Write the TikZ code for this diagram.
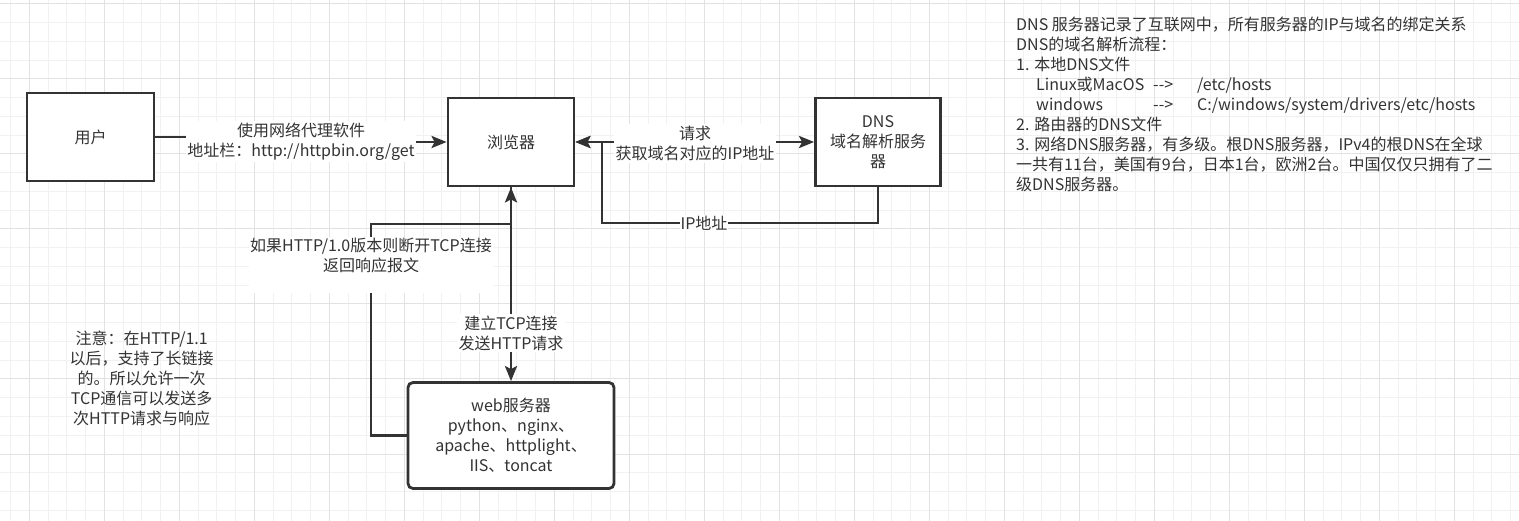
\documentclass[tikz,border=0pt]{standalone}
\usepackage{fontspec}
\setmainfont{Noto Sans CJK SC}
\usetikzlibrary{arrows.meta}
\definecolor{ink}{HTML}{333333}
\definecolor{gridminor}{HTML}{F1F1F1}
\definecolor{gridmajor}{HTML}{E2E2E2}
\begin{document}
\begin{tikzpicture}[x=1pt,y=-1pt,
  every node/.style={font=\fontsize{16pt}{20pt}\selectfont, text=ink},
  box/.style={draw=ink, line width=2.8pt, fill=white, inner sep=0pt, align=center},
  lbl/.style={fill=white, inner sep=2pt, align=center},
  arr/.style={line width=2.8pt, draw=ink, -{Stealth[length=15pt,width=12pt,inset=3pt]}},
  biarr/.style={line width=2.8pt, draw=ink, {Stealth[length=15pt,width=12pt,inset=3pt]}-{Stealth[length=15pt,width=12pt,inset=3pt]}},
  minorln/.style={draw=gridminor, line width=1pt},
  majorln/.style={draw=gridmajor, line width=1pt}]
\useasboundingbox (0,0) rectangle (1519,521);
\fill[white] (0,0) rectangle (1519,521);
% grid
\foreach \i in {0,...,80} \draw[minorln] ({10.55+18.75*\i},0) -- ({10.55+18.75*\i},521);
\foreach \i in {0,...,27} \draw[minorln] (0,{4+18.75*\i}) -- (1519,{4+18.75*\i});
\foreach \i in {0,...,20} \draw[majorln] ({29.3+75*\i},0) -- ({29.3+75*\i},521);
\foreach \i in {0,...,6} \draw[majorln] (0,{4+75*\i}) -- (1519,{4+75*\i});

% boxes
\node[box, minimum width=127pt, minimum height=88pt] (user) at (90.5,137) {用户};
\node[box, minimum width=126pt, minimum height=88pt] (browser) at (511,142) {浏览器};
\node[box, minimum width=125pt, minimum height=88pt] (dns) at (878,142) {DNS\\域名解析服务\\器};
\node[box, rounded corners=5pt, minimum width=206pt, minimum height=106pt] (web) at (511,435.5) {web服务器\\python、nginx、\\apache、httplight、\\IIS、toncat};

% user -> browser
\coordinate (ujog) at (301,137);
\draw[arr] (user.east) -- (ujog) |- (browser.west);
\node[lbl, inner sep=1.5pt] (ulbl) at (301,141.3) {使用网络代理软件\\地址栏：http://httpbin.org/get};

% browser <-> dns
\draw[biarr] (browser.east) -- (dns.west);
\node[lbl] (dlbl) at (695,143.5) {请求\\获取域名对应的IP地址};

% dns -> browser (IP)
\coordinate (ipc) at (602,223);
\draw[arr] (dns.south) |- (ipc) -- (ipc |- browser.east) -- (browser.east);
\node[lbl, inner sep=1pt] (iplbl) at (704,223) {IP地址};

% web -> browser (response loop)
\coordinate (lp) at (371,224);
\coordinate (jn) at (511,224);
\draw[arr] (web.west) -| (lp) -- (jn) -- (browser.south);
\node[lbl, inner sep=1.5pt] (rlbl) at (371,265) {如果HTTP/1.0版本则断开TCP连接\\返回响应报文\\\mbox{}};

% browser -> web
\draw[arr] (browser.south) -- (web.north);
\node[lbl, inner sep=2pt] (tlbl) at (511,333) {建立TCP连接\\发送HTTP请求};

% note
\node[align=center, inner sep=0pt] (note) at (141.7,378) {注意：在HTTP/1.1\\以后，支持了长链接\\的。所以允许一次\\TCP通信可以发送多\\次HTTP请求与响应};

% info text
\node[anchor=west, align=left, inner sep=0pt] (info) at (1016,104) {DNS 服务器记录了互联网中，所有服务器的IP与域名的绑定关系\\
DNS的域名解析流程：\\
1. 本地DNS文件\\
\hspace*{20pt}\makebox[117pt][l]{Linux或MacOS}\makebox[44pt][l]{-{}-{}>}/etc/hosts\\
\hspace*{20pt}\makebox[117pt][l]{windows}\makebox[44pt][l]{-{}-{}>}C:/windows/system/drivers/etc/hosts\\
2. 路由器的DNS文件\\
3. 网络DNS服务器，有多级。根DNS服务器，IPv4的根DNS在全球\\
一共有11台，美国有9台，日本1台，欧洲2台。中国仅仅只拥有了二\\
级DNS服务器。};
\end{tikzpicture}
\end{document}
